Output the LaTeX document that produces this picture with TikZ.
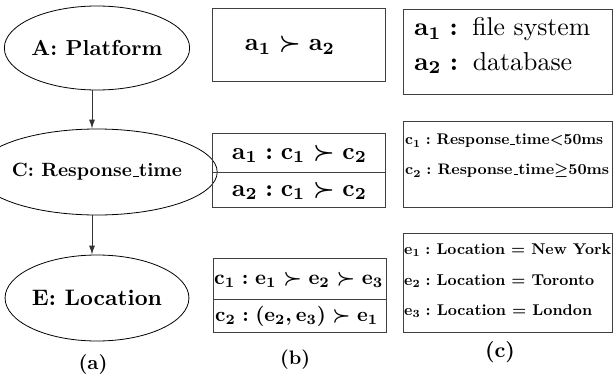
\documentclass[tikz,border=0pt]{standalone}
\usetikzlibrary{shapes.geometric,arrows.meta}
\newcommand{\fit}[2]{\resizebox{#1pt}{!}{\bfseries\boldmath #2}}
\newcommand{\fitwh}[3]{\resizebox{#1pt}{#2pt}{\bfseries\boldmath #3}}
\newcommand{\usc}{\leavevmode\kern.06em\vbox{\hrule width .3em height .5pt}}
\begin{document}
\begin{tikzpicture}[x=1pt,y=-1pt,
  ell/.style={ellipse,draw=black,line width=0.8pt,minimum width=178pt,minimum height=84pt,inner sep=0pt},
  conn/.style={draw=black!80,line width=0.9pt,-{Latex[length=9pt,width=6pt]}},
  boxr/.style={draw=black!75,line width=1pt},
  txt/.style={inner sep=0pt},
  lbl/.style={inner sep=0pt}]
\useasboundingbox (0,0) rectangle (613,383);
% (a)
\node[ell,minimum height=84pt] (A) at (97,48) {\fit{131}{A: Platform}};
\node[ell,minimum height=86pt,minimum width=180pt] (C) at (97,172) {\fit{170}{C: Response\usc time}};
\node[ell,minimum height=86pt] (E) at (97,298) {\fit{130}{E: Location}};
\draw[conn] ([xshift=-5pt]A.south) -- ([xshift=-5pt]C.north);
\draw[conn] ([xshift=-5pt]C.south) -- ([xshift=-5pt]E.north);
\node[lbl] (la) at (93,364) {\fit{29}{(a)}};
% (b)
\draw[boxr] (212,8) rectangle (385,81);
\node[txt] (b1) at (290,45) {\fit{90}{$\mathbf{a}_1\succ\mathbf{a}_2$}};
\draw[boxr] (212,133) rectangle (385,207);
\draw[boxr] (212,172) -- (385,172);
\node[txt] (b21) at (299.5,154) {\fit{135}{$\mathbf{a}_1:\mathbf{c}_1\succ\mathbf{c}_2$}};
\node[txt] (b22) at (299.5,191) {\fit{135}{$\mathbf{a}_2:\mathbf{c}_1\succ\mathbf{c}_2$}};
\draw[boxr] (213,258) rectangle (386,332);
\draw[boxr] (213,299) -- (386,299);
\node[txt,anchor=west] (b31) at (214,280) {\fit{169}{$\mathbf{c}_1:\mathbf{e}_1\succ\mathbf{e}_2\succ\mathbf{e}_3$}};
\node[txt,anchor=west] (b32) at (215,316) {\fit{163}{$\mathbf{c}_2:(\mathbf{e}_2,\mathbf{e}_3)\succ\mathbf{e}_1$}};
\node[lbl] (lb) at (295,360) {\fit{30}{(b)}};
% (c)
\draw[boxr] (403,9) rectangle (612.5,94);
\node[txt,anchor=west] (c11) at (414,29) {\fit{176}{$\mathbf{a}_1:$\hspace{5.6pt}\mdseries file system}};
\node[txt,anchor=west] (c12) at (414,63) {\fit{158}{$\mathbf{a}_2:$\hspace{5.6pt}\mdseries database}};
\draw[boxr] (403,121) rectangle (612.5,207);
\node[txt,anchor=west] (c21) at (405,141) {\fitwh{198}{10.6}{$\mathbf{c}_1:$ Response\usc time$<$50ms}};
\node[txt,anchor=west] (c22) at (405,171) {\fitwh{204}{10.6}{$\mathbf{c}_2:$ Response\usc time$\geq$50ms}};
\draw[boxr] (403,233) rectangle (612.5,332);
\node[txt,anchor=west] (c31) at (404,250) {\fitwh{207}{10.8}{$\mathbf{e}_1:$ Location $=$ New York}};
\node[txt,anchor=west] (c32) at (404,281) {\fitwh{190}{10.8}{$\mathbf{e}_2:$ Location $=$ Toronto}};
\node[txt,anchor=west] (c33) at (404,311) {\fitwh{188}{10.8}{$\mathbf{e}_3:$ Location $=$ London}};
\node[lbl] (lc) at (500,352) {\fit{30}{(c)}};
\end{tikzpicture}
\end{document}
